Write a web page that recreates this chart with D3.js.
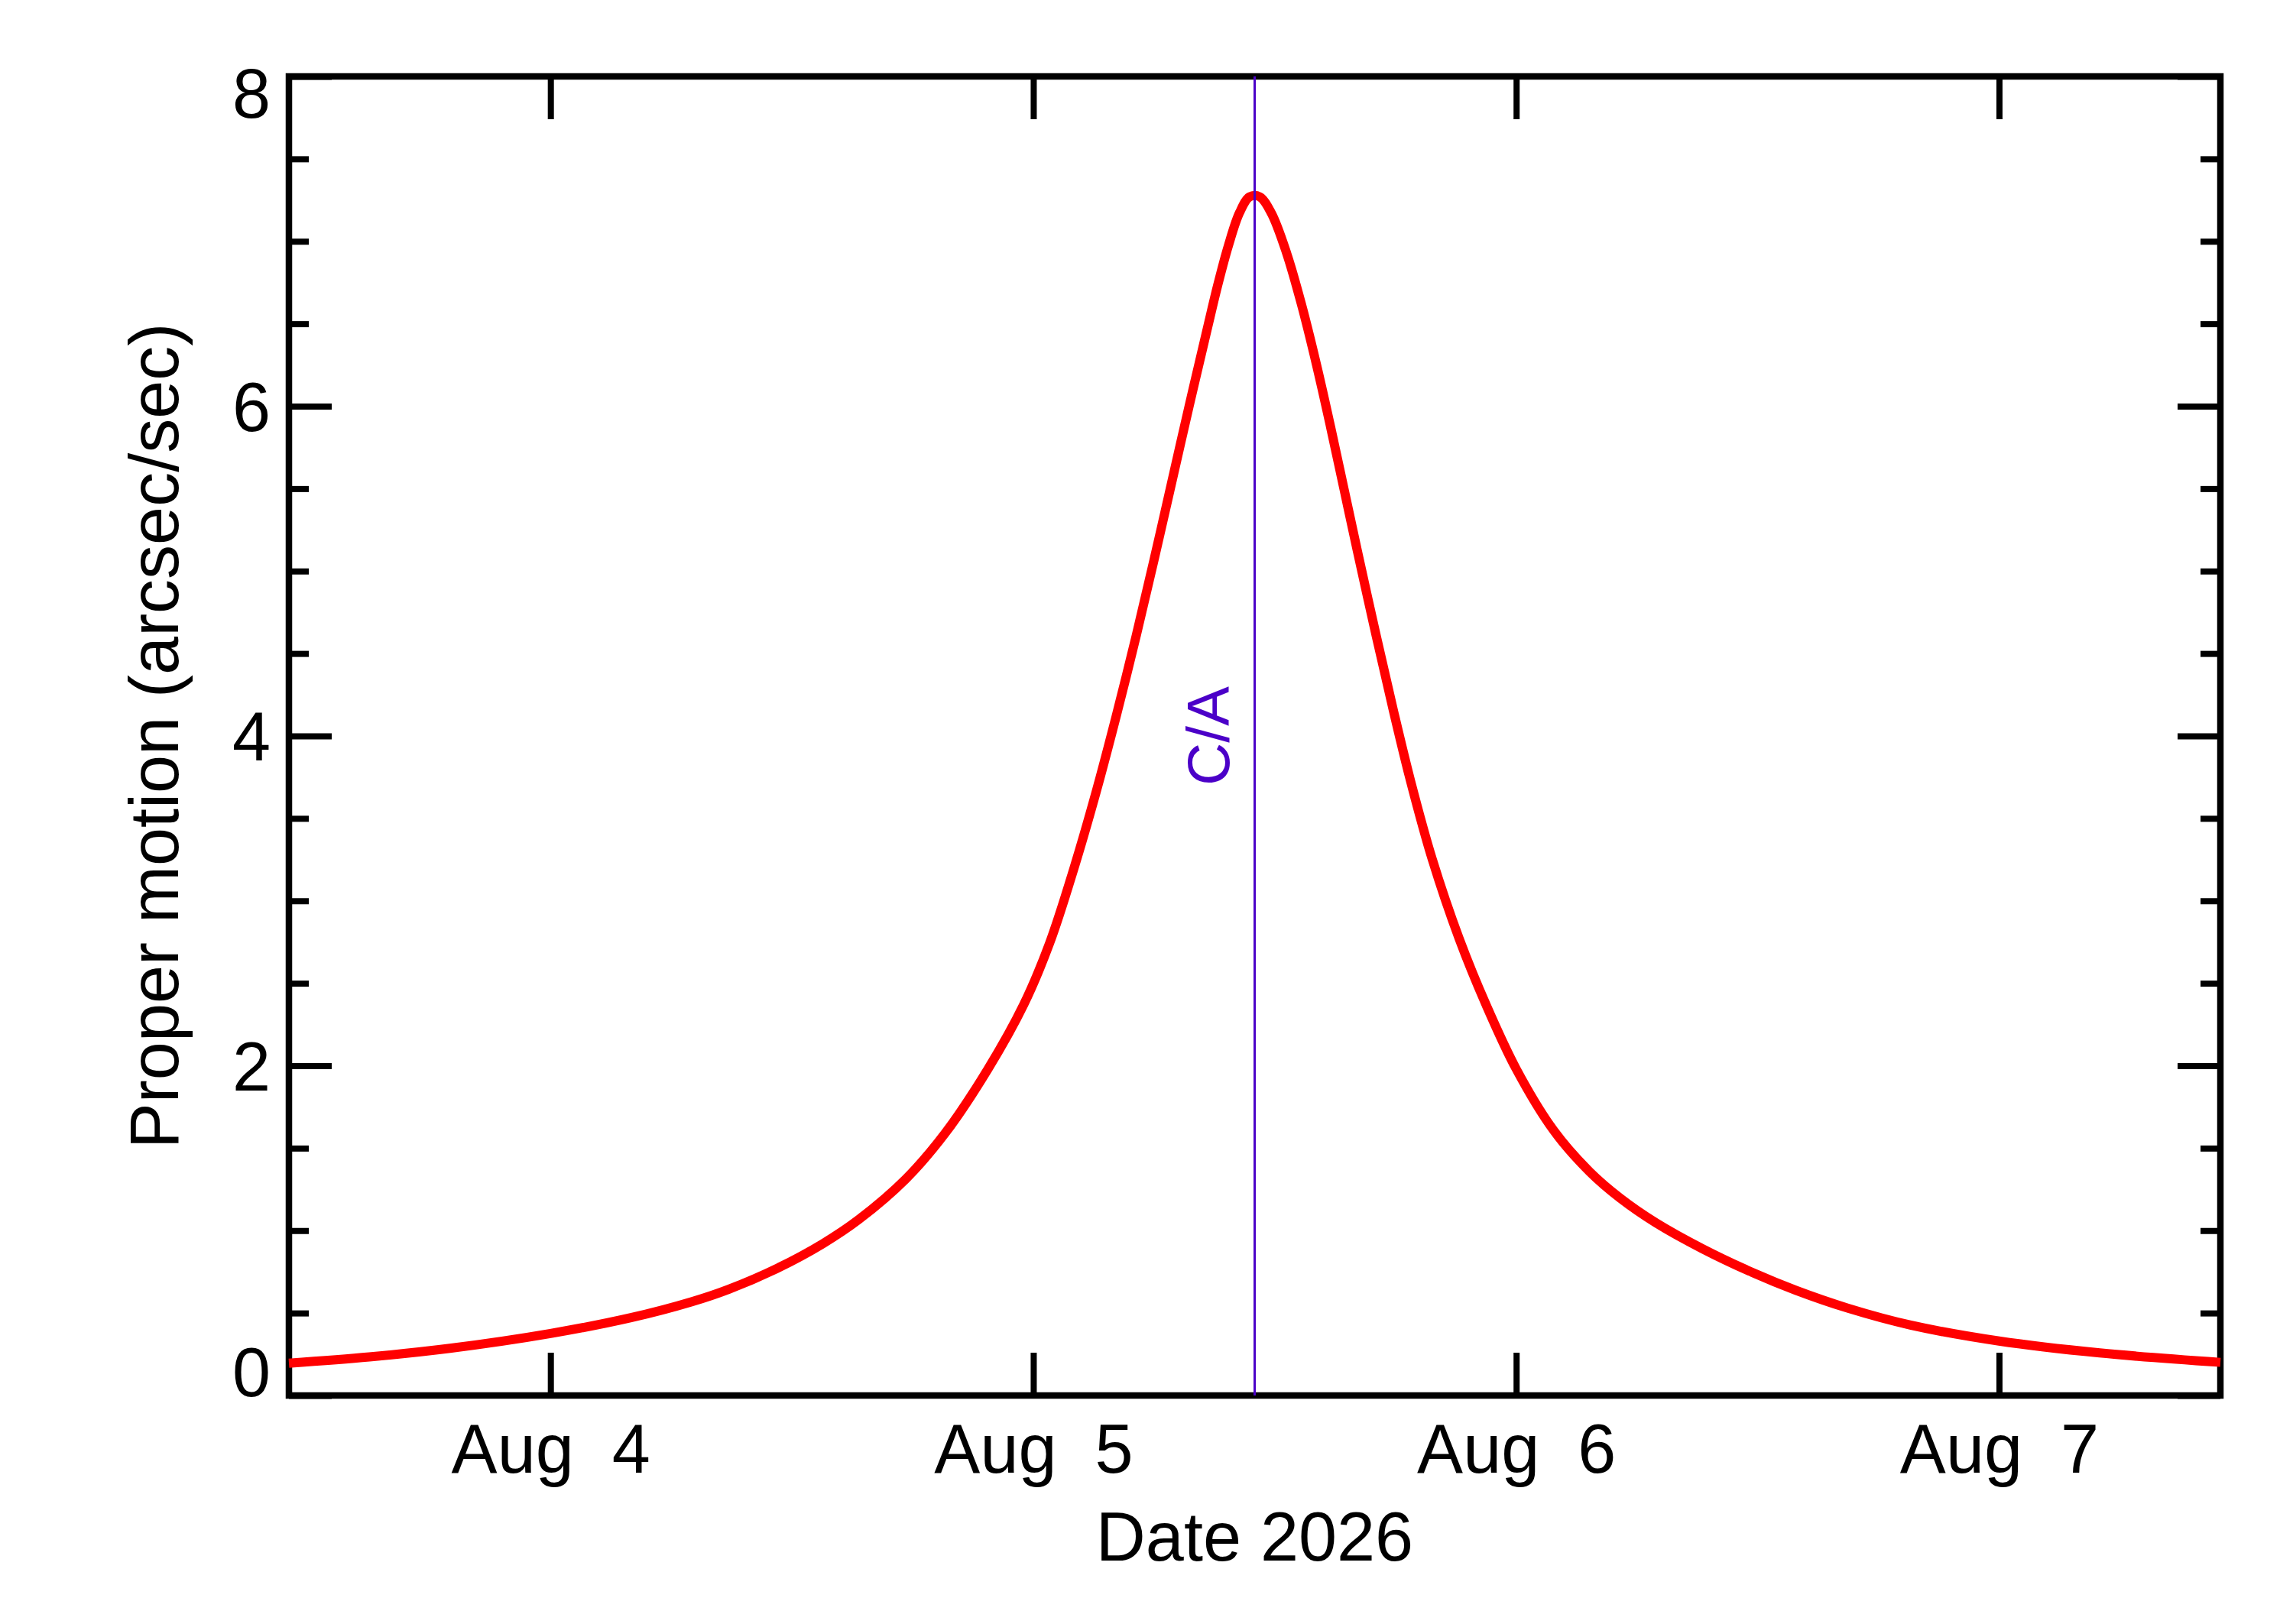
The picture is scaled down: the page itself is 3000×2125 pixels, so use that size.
<!DOCTYPE html>
<html>
<head>
<meta charset="utf-8">
<script src="https://cdn.jsdelivr.net/npm/d3@7"></script>
<style>
    html, body { margin: 0; padding: 0; background: #ffffff; }
    svg text { font-family: "Liberation Sans", Arial, Helvetica, sans-serif; }
</style>
</head>
<body>
<div id="chart"></div>
<script>
// Fenêtre de temps du graphique et instant de l'approche minimale
const startTime = '2026-08-03T11:00:00Z';
const endTime = '2026-08-07T11:00:00Z';
const closeApproachTime = '2026-08-05T11:00:00Z';
const closeApproachLabel = 'C/A';

// Heures écoulées depuis le 2026-08-03 00:00 UTC
const sampleHours = [
    11, 15, 19, 24, 28, 31, 32.85, 35.33, 37.54, 39.32,
    41.66, 43.62, 45.75, 47.52, 48.81, 50.01, 51.12, 52.10, 53.12, 53.99,
    54.79, 55.74, 56.63, 57.17, 57.70, 58.25, 58.75, 59.25, 59.83, 60.59,
    61.32, 62.08, 62.78, 63.44, 64.10, 65.05, 65.91, 66.76, 67.83, 69.16,
    70.49, 72.01, 73.86, 75.66, 77.18, 78.95, 81.23, 83.76, 85.9, 88.5,
    91.6, 96, 101, 107
];

// Mouvement propre (arcsec/sec)
const properMotion = [
    0.196, 0.234, 0.286, 0.376, 0.472, 0.568, 0.644, 0.775, 0.921, 1.067,
    1.313, 1.591, 1.981, 2.370, 2.744, 3.194, 3.660, 4.111, 4.611, 5.063,
    5.491, 5.999, 6.462, 6.737, 6.976, 7.174, 7.27, 7.27, 7.171, 6.928,
    6.621, 6.249, 5.871, 5.498, 5.125, 4.603, 4.147, 3.722, 3.251, 2.772,
    2.373, 1.978, 1.608, 1.356, 1.196, 1.047, 0.892, 0.745, 0.638, 0.529,
    0.427, 0.330, 0.258, 0.201
];

// Graduations
const dayTicks = ['2026-08-04', '2026-08-05', '2026-08-06', '2026-08-07'];
const yMajorTicks = [0, 2, 4, 6, 8];
const yMinorTicks = [0.5, 1, 1.5, 2.5, 3, 3.5, 4.5, 5, 5.5, 6.5, 7, 7.5];

const xAxisTitle = 'Date 2026';
const yAxisTitle = 'Proper motion (arcsec/sec)';

/**
 * ProperMotionChart - trace le mouvement propre autour de l'approche minimale
 */
class ProperMotionChart {
    constructor(containerId, options = {}) {
        this.containerId = containerId;
        this.width = options.width || 3000;
        this.height = options.height || 2125;
        this.margin = options.margin || { top: 100, right: 95, bottom: 299, left: 378 };
        this.majorTick = 56;
        this.minorTick = 26;
        this.fontSize = 90;
        this.caColor = 'rgb(75, 0, 200)';
        this.svg = null;
    }

    /**
     * Rend le graphique
     */
    render() {
        d3.select(`#${this.containerId}`).selectAll('*').remove();

        const baseDate = Date.parse('2026-08-03T00:00:00Z');
        const data = sampleHours.map((h, i) => ({
            date: new Date(baseDate + h * 3600 * 1000),
            value: properMotion[i]
        }));

        const x = d3.scaleUtc()
            .domain([new Date(startTime), new Date(endTime)])
            .range([this.margin.left, this.width - this.margin.right]);

        const y = d3.scaleLinear()
            .domain([0, 8])
            .range([this.height - this.margin.bottom, this.margin.top]);

        this.svg = d3.select(`#${this.containerId}`)
            .append('svg')
            .attr('width', this.width)
            .attr('height', this.height)
            .style('display', 'block')
            .style('background', '#ffffff');

        this.drawFrame(x, y);
        this.drawAxes(x, y);
        this.drawCurve(data, x, y);
        this.drawCloseApproach(x, y);
    }

    /**
     * Cadre noir du graphique
     */
    drawFrame(x, y) {
        const [x0, x1] = x.range();
        const [y0, y1] = y.range();
        this.svg.append('rect')
            .attr('x', x0)
            .attr('y', y1)
            .attr('width', x1 - x0)
            .attr('height', y0 - y1)
            .attr('fill', 'none')
            .attr('stroke', '#000')
            .attr('stroke-width', 8.5);
    }

    /**
     * Axes avec graduations vers l'intérieur
     */
    drawAxes(x, y) {
        const days = dayTicks.map(d => new Date(d + 'T00:00:00Z'));
        const bottom = this.height - this.margin.bottom;
        const right = this.width - this.margin.right;
        const fs = this.fontSize;

        const style = g => {
            g.select('.domain').remove();
            g.selectAll('.tick line').attr('stroke', '#000').attr('stroke-width', 8);
        };

        // Axe X bas
        const xBottom = this.svg.append('g')
            .attr('transform', `translate(0,${bottom})`)
            .call(d3.axisBottom(x).tickValues(days).tickSize(-this.majorTick)
                .tickFormat(d3.utcFormat('%b %e')))
            .call(style);
        xBottom.selectAll('.tick text')
            .attr('y', 101)
            .attr('dy', 0)
            .attr('fill', '#000')
            .style('font-size', `${fs}px`)
            .style('white-space', 'pre');

        // Axe X haut
        this.svg.append('g')
            .attr('transform', `translate(0,${this.margin.top})`)
            .call(d3.axisTop(x).tickValues(days).tickSize(-this.majorTick).tickFormat(''))
            .call(style);

        // Axe Y gauche
        const yLeft = this.svg.append('g')
            .attr('transform', `translate(${this.margin.left},0)`)
            .call(d3.axisLeft(y).tickValues(yMajorTicks).tickSize(-this.majorTick)
                .tickPadding(24).tickFormat(d3.format('d')))
            .call(style);
        yLeft.selectAll('.tick text')
            .attr('fill', '#000')
            .style('font-size', `${fs}px`)
            .attr('dy', d => d === 0 ? '0px' : (d === 8 ? '53px' : '0.35em'));

        this.svg.append('g')
            .attr('transform', `translate(${this.margin.left},0)`)
            .call(d3.axisLeft(y).tickValues(yMinorTicks).tickSize(-this.minorTick).tickFormat(''))
            .call(style);

        // Axe Y droit
        this.svg.append('g')
            .attr('transform', `translate(${right},0)`)
            .call(d3.axisRight(y).tickValues(yMajorTicks).tickSize(-this.majorTick).tickFormat(''))
            .call(style);

        this.svg.append('g')
            .attr('transform', `translate(${right},0)`)
            .call(d3.axisRight(y).tickValues(yMinorTicks).tickSize(-this.minorTick).tickFormat(''))
            .call(style);

        // Titres des axes
        const [x0, x1] = x.range();
        this.svg.append('text')
            .attr('x', (x0 + x1) / 2)
            .attr('y', 2042)
            .attr('text-anchor', 'middle')
            .style('font-size', `${fs}px`)
            .text(xAxisTitle);

        const [y0, y1] = y.range();
        this.svg.append('text')
            .attr('transform', `translate(233,${(y0 + y1) / 2}) rotate(-90)`)
            .attr('text-anchor', 'middle')
            .style('font-size', `${fs}px`)
            .text(yAxisTitle);
    }

    /**
     * Courbe rouge du mouvement propre
     */
    drawCurve(data, x, y) {
        const line = d3.line()
            .x(d => x(d.date))
            .y(d => y(d.value))
            .curve(d3.curveCatmullRom.alpha(0.5));

        this.svg.append('path')
            .datum(data)
            .attr('d', line)
            .attr('fill', 'none')
            .attr('stroke', '#ff0000')
            .attr('stroke-width', 12)
            .attr('stroke-linejoin', 'round');
    }

    /**
     * Ligne verticale et étiquette de l'approche minimale
     */
    drawCloseApproach(x, y) {
        const cx = x(new Date(closeApproachTime));
        const [y0, y1] = y.range();

        this.svg.append('line')
            .attr('x1', cx)
            .attr('x2', cx)
            .attr('y1', y1)
            .attr('y2', y0)
            .attr('stroke', this.caColor)
            .attr('stroke-width', 3);

        this.svg.append('text')
            .attr('transform', `translate(${cx - 34},${y(4)}) rotate(-90)`)
            .attr('text-anchor', 'middle')
            .attr('fill', this.caColor)
            .style('font-size', '78px')
            .text(closeApproachLabel);
    }
}

const chart = new ProperMotionChart('chart');
chart.render();
</script>
</body>
</html>
